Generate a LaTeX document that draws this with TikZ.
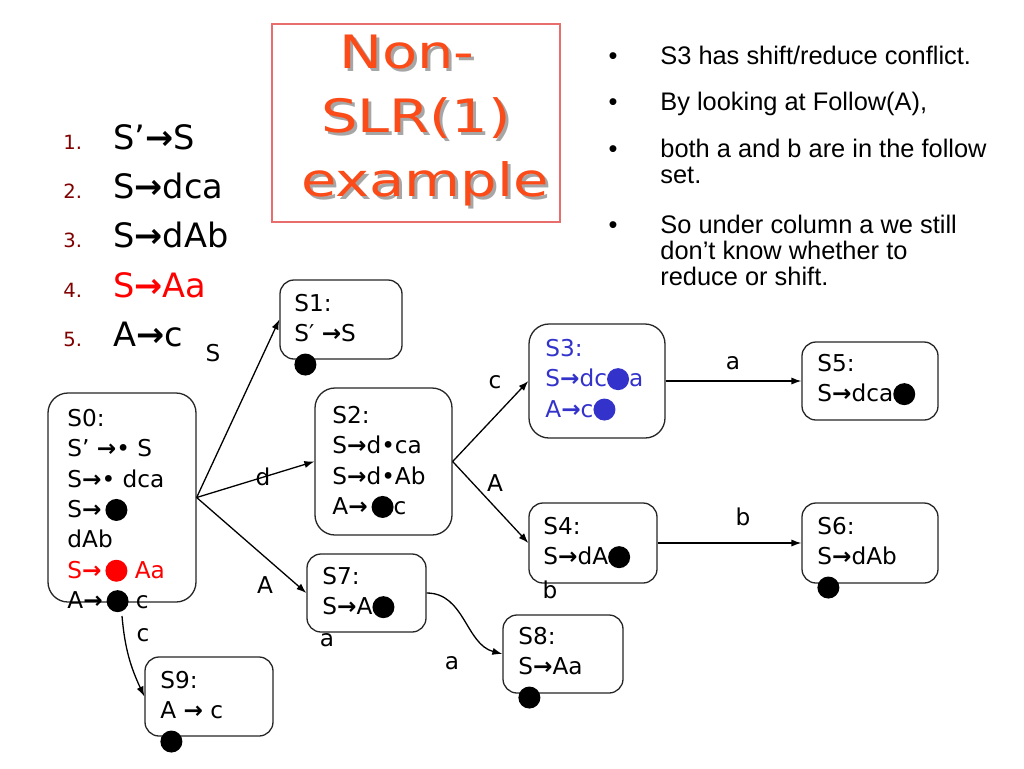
\documentclass[tikz,border=0pt]{standalone}
\usepackage{fontspec}
\setmainfont{DejaVu Sans}
\newfontfamily\arialfont{Liberation Sans}
\newfontfamily\titlefont[FakeStretch=1.25]{DejaVu Sans}
\usetikzlibrary{arrows.meta}

\definecolor{titlered}{RGB}{250,75,25}
\definecolor{framered}{RGB}{232,110,110}
\definecolor{numred}{RGB}{128,0,0}
\definecolor{itemblue}{RGB}{51,51,204}

% item dot, takes the colour of the text round it
\newcommand\bigdot{\tikz[baseline=-3.8pt]\fill (0,0) circle (5.5pt);}
\newcommand\yields{\textbf{→}}

\tikzset{
  stbox/.style={draw=black!85, line width=0.65pt, rounded corners=7pt},
  bigstbox/.style={stbox, rounded corners=10pt},
  sz/.style 2 args={minimum width=#1*0.5pt, minimum height=#2*0.5pt, inner sep=0pt},
  % placed at the baseline of the first line
  items/.style={anchor=north west, yshift=10.64pt, align=left, inner sep=0pt,
    execute at begin node=\strut, font=\fontsize{11.6pt}{15.2pt}\selectfont},
  lbl/.style={inner sep=0pt, font=\fontsize{11.6pt}{14pt}\selectfont},
  conn/.style={-{Latex[length=5pt,width=3.6pt]}, line width=0.65pt},
  num/.style={anchor=base west, inner sep=0pt, text=numred, font=\fontsize{9.8pt}{12pt}\selectfont},
  prod/.style={anchor=base west, inner sep=0pt, font=\fontsize{16.8pt}{20pt}\selectfont},
  note/.style={anchor=base west, inner sep=0pt, font=\arialfont\fontsize{12.7pt}{13pt}\selectfont},
  titletxt/.style={anchor=north, align=center, inner sep=0pt, text=titlered,
    font=\titlefont\fontsize{23pt}{32pt}\selectfont}
}

\begin{document}
\begin{tikzpicture}[x=0.5pt, y=-0.5pt]
  \path[fill=white, use as bounding box] (0,0) rectangle (1024,768);

  % grammar
  \node[num] (n1) at (63,149) {1.};
  \node[prod] (p1) at (113,149) {S’\yields S};
  \node[num] (n2) at (63,198) {2.};
  \node[prod] (p2) at (113,198) {S\yields dca};
  \node[num] (n3) at (63,247) {3.};
  \node[prod] (p3) at (113,247) {S\yields dAb};
  \node[num] (n4) at (63,297) {4.};
  \node[prod, text=red] (p4) at (113,297) {S\yields Aa};
  \node[num] (n5) at (63,346) {5.};
  \node[prod] (p5) at (113,346) {A\yields c};

  % title
  \node[draw=framered, line width=0.6pt, sz={288}{198}] (titlebox) at (416,123) {};
  \node[titletxt, text=black!35] (titleshadow) at (419,38) {Non-\hspace*{9pt}\\SLR(1)\\\hspace*{9pt}example};
  \node[titletxt] (title) at (416,35) {Non-\hspace*{9pt}\\SLR(1)\\\hspace*{9pt}example};

  % notes
  \node[note, anchor=base] (b1) at (613,64) {•};
  \node[note] (l1) at (660,64) {S3 has shift/reduce conflict.};
  \node[note, anchor=base] (b2) at (613,110) {•};
  \node[note] (l2) at (660,110) {By looking at Follow(A),};
  \node[note, anchor=base] (b3) at (613,157) {•};
  \node[note] (l3) at (660,157) {both a and b are in the follow};
  \node[note] (l3b) at (660,183) {set.};
  \node[note, anchor=base] (b4) at (613,233) {•};
  \node[note] (l4) at (660,233) {So under column a we still};
  \node[note] (l4b) at (660,259) {don’t know whether to};
  \node[note] (l4c) at (660,285) {reduce or shift.};

  % states
  \node[bigstbox, sz={148}{209}] (s0) at (122,497.5) {};
  \node[stbox, sz={122}{79}] (s1) at (341,319.5) {};
  \node[bigstbox, sz={137}{147}] (s2) at (383.5,461.5) {};
  \node[bigstbox, sz={136}{114}] (s3) at (597,381) {};
  \node[stbox, sz={128}{80}] (s4) at (593,543) {};
  \node[stbox, sz={136}{78}] (s5) at (870,381) {};
  \node[stbox, sz={136}{80}] (s6) at (870,543) {};
  \node[stbox, sz={119}{78}] (s7) at (366.5,593) {};
  \node[stbox, sz={120}{78}] (s8) at (563,654) {};
  \node[stbox, sz={128}{79}] (s9) at (209,696.5) {};

  \node[items] (s0txt) at (67,430) {S0:\\S' \yields• S\\S\yields• dca\\S\yields\,\bigdot\\dAb\\
    \textcolor{red}{S\yields\,\bigdot{} Aa}\\A\yields\,\bigdot{} c};
  \node[items] (s1txt) at (294,315) {S1:\\S′ \yields S\\\bigdot};
  \node[items] (s2txt) at (332,427) {S2:\\S\yields d•ca\\S\yields d•Ab\\A\yields\,\bigdot c};
  \node[items, text=itemblue] (s3txt) at (545,360) {S3:\\S\yields dc\bigdot a\\A\yields c\bigdot};
  \node[items] (s4txt) at (543,538) {S4:\\S\yields dA\bigdot};
  \node[items] (s5txt) at (817,375) {S5:\\S\yields dca\bigdot};
  \node[items] (s6txt) at (817,538) {S6:\\S\yields dAb\\\bigdot};
  \node[items] (s7txt) at (322,588) {S7:\\S\yields A\bigdot};
  \node[items] (s8txt) at (518,648) {S8:\\S\yields Aa\\\bigdot};
  \node[items] (s9txt) at (160,692) {S9:\\A \yields{} c\\\bigdot};

  % transitions
  \coordinate (s0c) at (122,616);
  \draw[conn] (s0.east) -- (s1.west);
  \draw[conn] (s0.east) -- (s2.west);
  \draw[conn] (s0.east) -- (s7.west);
  \draw[conn] (s2.east) -- (s3.west);
  \draw[conn] (s2.east) -- (s4.west);
  \draw[conn] (s3.east) -- (s5.west);
  \draw[conn] (s4.east) -- (s6.west);
  \draw[conn] (s7.east) to[out=0, in=165] (s8.west);
  \draw[conn] (s0c) to[out=-85, in=115] (s9.west);

  \node[lbl] (lS) at (213,353) {S};
  \node[lbl] (ld) at (263,477) {d};
  \node[lbl] (lA) at (265,585) {A};
  \node[lbl] (lc) at (495,382) {c};
  \node[lbl] (lA2) at (495,483) {A};
  \node[lbl] (la) at (733,363) {a};
  \node[lbl] (lb) at (743,517) {b};
  \node[lbl] (lb2) at (550,590) {b};
  \node[lbl] (la2) at (327,640) {a};
  \node[lbl] (la3) at (452,663) {a};
  \node[lbl] (lc2) at (143,635) {c};
\end{tikzpicture}
\end{document}
